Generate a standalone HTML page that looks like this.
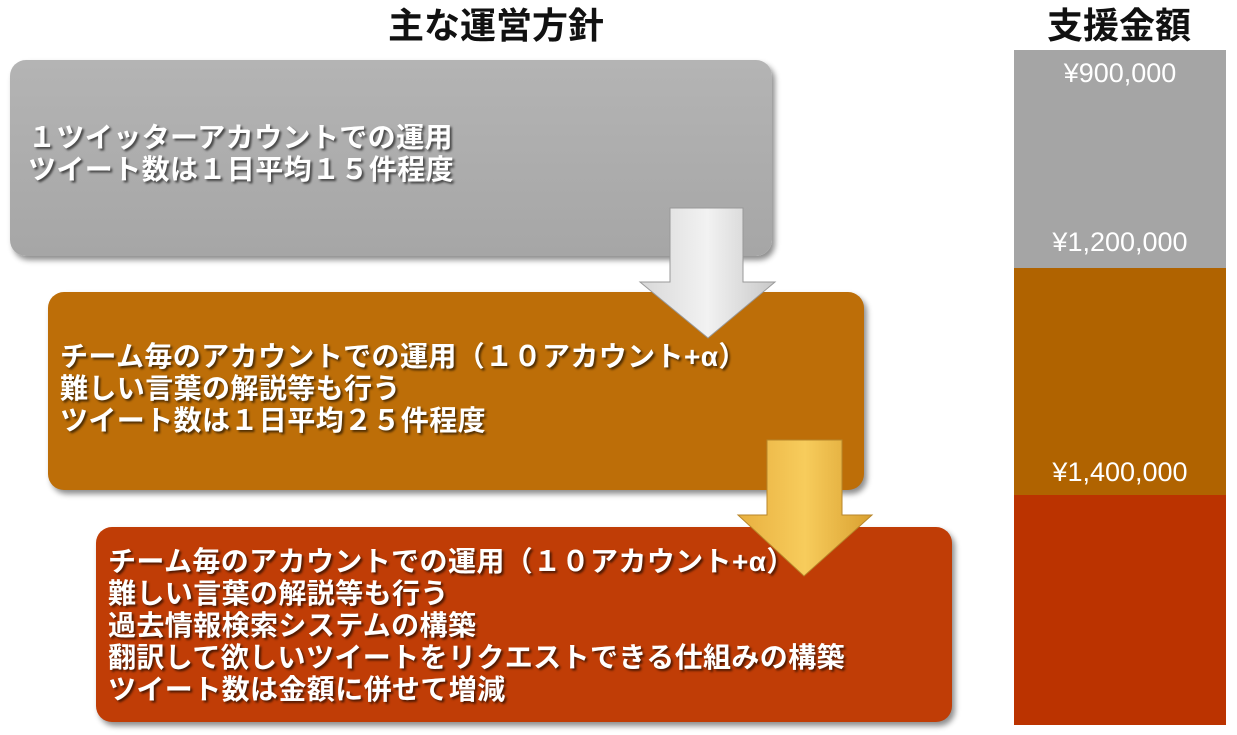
<!DOCTYPE html>
<html><head><meta charset="utf-8"><style>
body{margin:0;width:1237px;height:735px;background:#fff;position:relative;overflow:hidden;font-family:"Liberation Sans","Noto Sans CJK JP",sans-serif}
.t{position:absolute;font-weight:bold;font-size:36px;color:#111;line-height:40px}
.box{position:absolute;border-radius:16px;box-shadow:3px 4px 6px rgba(0,0,0,.45);color:#fff;font-weight:bold;font-size:28px;letter-spacing:0.4px;line-height:32px;text-shadow:2px 2px 2px rgba(0,0,0,.6);box-sizing:border-box;display:flex;flex-direction:column;justify-content:center;white-space:nowrap}
.c{position:absolute;left:1014px;width:212px}
.l{position:absolute;left:1014px;width:212px;text-align:center;color:#fff;font-size:27px}
</style></head><body>
<div class="t" style="left:388px;top:6px">主な運営方針</div>
<div class="t" style="left:1047px;top:6px">支援金額</div>

<div class="box" style="left:10px;top:60px;width:762px;height:196px;background:linear-gradient(#b4b4b4,#a6a6a6);padding-left:18px;padding-bottom:8px">
<div>１ツイッターアカウントでの運用</div><div>ツイート数は１日平均１５件程度</div></div>

<div class="box" style="left:48px;top:292px;width:816px;height:198px;background:#bd6e08;padding-left:12px;padding-bottom:4px">
<div>チーム毎のアカウントでの運用（１０アカウント+α）</div><div>難しい言葉の解説等も行う</div><div>ツイート数は１日平均２５件程度</div></div>

<div class="box" style="left:96px;top:527px;width:856px;height:195px;background:#c03d06;padding-left:12px;padding-top:2px">
<div>チーム毎のアカウントでの運用（１０アカウント+α）</div><div>難しい言葉の解説等も行う</div><div>過去情報検索システムの構築</div><div>翻訳して欲しいツイートをリクエストできる仕組みの構築</div><div>ツイート数は金額に併せて増減</div></div>

<svg style="position:absolute;left:0;top:0" width="1237" height="735">
<defs>
<linearGradient id="g1" x1="0" x2="1"><stop offset="0" stop-color="#d8d8d8"/><stop offset=".5" stop-color="#f2f2f2"/><stop offset="1" stop-color="#c8c8c8"/></linearGradient>
<linearGradient id="g2" x1="0" x2="1"><stop offset="0" stop-color="#e8b040"/><stop offset=".5" stop-color="#f7cc5c"/><stop offset="1" stop-color="#d9a030"/></linearGradient>
</defs>
<polygon points="670,208 743,208 743,282 775,282 708,338 640,282 670,282" fill="url(#g1)" stroke="#999" stroke-width="1"/>
<polygon points="767,440 842,440 842,515 872,515 804,576 738,515 767,515" fill="url(#g2)" stroke="#b8862a" stroke-width="1"/>
</svg>

<div class="c" style="top:50px;height:218px;background:#a5a5a5"></div>
<div class="c" style="top:268px;height:227px;background:#b06300"></div>
<div class="c" style="top:495px;height:230px;background:#bb3300"></div>
<div class="l" style="top:58px">¥900,000</div>
<div class="l" style="top:227px">¥1,200,000</div>
<div class="l" style="top:457px">¥1,400,000</div>
</body></html>
